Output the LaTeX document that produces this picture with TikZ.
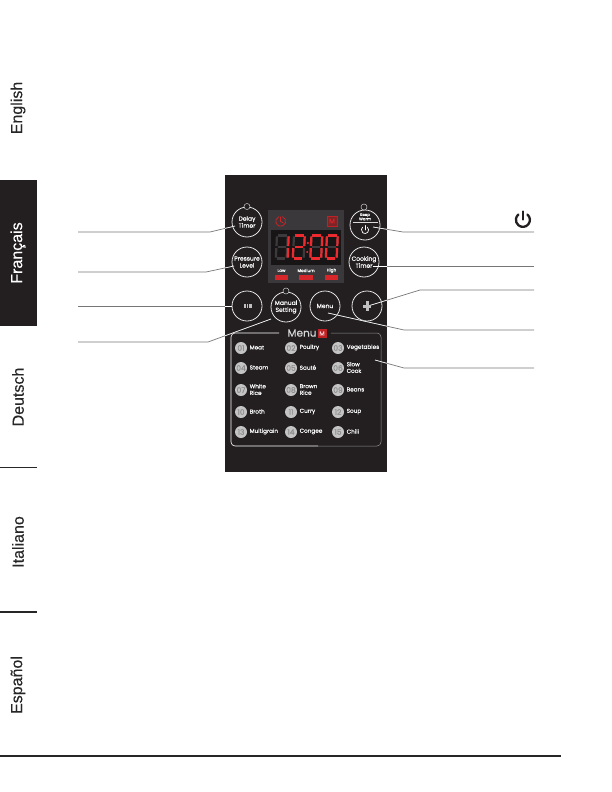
\documentclass[tikz,border=0pt]{standalone}
\usepackage{fontspec}
\setmainfont{Liberation Sans}
\newfontfamily\panelfont[FakeBold=0.12]{Poppins}
\newfontfamily\tabfont[FakeBold=0.25]{Liberation Sans}
\definecolor{panelbg}{HTML}{231F20}
\definecolor{dispbg}{HTML}{3A383B}
\definecolor{dispin}{HTML}{171516}
\definecolor{ghost}{HTML}{3C3A3C}
\definecolor{ledred}{HTML}{EE2A2E}
\definecolor{leader}{HTML}{777777}
\definecolor{disc}{HTML}{C4C4C4}
\tikzset{
  tabtext/.style={rotate=90,font=\tabfont\fontsize{16}{16}\selectfont,text=black!85,inner sep=0pt},
  rulebar/.style={line width=1.3pt,draw=black!85},
  leadline/.style={draw=leader,line width=0.7pt},
  roundbtn/.style={circle,draw=white!90!black,line width=0.8pt,minimum size=30pt,inner sep=0pt,text=white,align=center,font=\panelfont\fontsize{6}{7}\selectfont},
  tinyled/.style={circle,draw=white!80!black,line width=0.5pt,fill=panelbg,minimum size=6pt,inner sep=0pt},
  numdisc/.style={circle,fill=disc,minimum size=12pt,inner sep=0pt,text=black!45,font=\panelfont\fontsize{7.5}{7.5}\selectfont},
  menulabel/.style={anchor=west,inner sep=0pt,text=white,align=left,font=\panelfont\fontsize{5.7}{6.6}\selectfont},
  ledlabel/.style={inner sep=0pt,text=white,font=\panelfont\fontsize{4.2}{4.2}\selectfont},
  ledbar/.style={fill=ledred!90!black,draw=none,minimum width=13.5pt,minimum height=5pt,inner sep=0pt},
  powerline/.style={line cap=round}
}
\newcommand{\segs}[4]{% x, top y, colour, list of segments
  \foreach \s in {#4}{
    \ifnum\s=1 \draw[#3,line width=2.2pt] (#1+2.2,#2) -- (#1+11,#2);\fi
    \ifnum\s=2 \draw[#3,line width=2.2pt] (#1+12.2,#2+.8) -- (#1+11.8,#2+10.5);\fi
    \ifnum\s=3 \draw[#3,line width=2.2pt] (#1+11.6,#2+12.5) -- (#1+11.2,#2+22.2);\fi
    \ifnum\s=4 \draw[#3,line width=2.2pt] (#1+1,#2+23) -- (#1+9.8,#2+23);\fi
    \ifnum\s=5 \draw[#3,line width=2.2pt] (#1+.8,#2+12.5) -- (#1+.4,#2+22.2);\fi
    \ifnum\s=6 \draw[#3,line width=2.2pt] (#1+1.4,#2+.8) -- (#1+1,#2+10.5);\fi
    \ifnum\s=7 \draw[#3,line width=2.2pt] (#1+2,#2+11.5) -- (#1+10.4,#2+11.5);\fi
  }
}
\begin{document}
\begin{tikzpicture}[x=1pt,y=-1pt]
\useasboundingbox (0,0) rectangle (612,792);
\fill[white] (0,0) rectangle (612,792);
% side tabs
\fill[panelbg] (0,180) rectangle (37,326);
\node[tabtext] (tEn) at (18,108) {English};
\node[tabtext,text=white] (tFr) at (18,253) {Français};
\node[tabtext] (tDe) at (18,397) {Deutsch};
\node[tabtext] (tIt) at (18,542) {Italiano};
\node[tabtext] (tEs) at (18,685) {Español};
\draw[rulebar] (0,467.7) -- (37,467.7);
\draw[rulebar] (0,612) -- (37,612);
\draw[rulebar] (0,756) -- (561,756);
% panel
\fill[panelbg] (225,175) rectangle (387,472);
% display
\fill[dispbg] (268,210) rectangle (344,283);
\fill[dispin] (271,230) rectangle (341,265);
\segs{275.5}{235.5}{ghost}{1,2,3,4,5,6,7}
\segs{292.5}{235.5}{ghost}{1,2,3,4,5,6,7}
\segs{310}{235.5}{ghost}{1,2,3,4,5,6,7}
\segs{325.5}{235.5}{ghost}{1,2,3,4,5,6,7}
\segs{276.5}{235.5}{ledred}{2,3}
\segs{292.5}{235.5}{ledred}{1,2,7,5,4}
\segs{310}{235.5}{ledred}{1,2,3,4,5,6}
\segs{325.5}{235.5}{ledred}{1,2,3,4,5,6}
\fill[ledred] (307.8,243) circle (1.2);
\fill[ledred] (307.2,252) circle (1.2);
% clock and M icons
\draw[ledred!85!black,line width=0.8pt] (282.4,216.6) arc (-70:250:5);
\draw[ledred!85!black,line width=0.8pt] (280.6,216.5) -- (280.6,221.5) -- (283.5,223);
\node[draw=ledred!80!black,fill=ledred!45!panelbg,line width=0.6pt,minimum size=10pt,inner sep=0pt,text=ledred!90!black,font=\panelfont\fontsize{7}{7}\selectfont] (mTop) at (332,221) {M};
% LED rows
\node[ledlabel] (lLow) at (281.5,270.5) {Low};
\node[ledlabel] (lMed) at (306,270.5) {Medium};
\node[ledlabel] (lHigh) at (331.5,270.5) {High};
\node[ledbar] (bLow) at (281.5,277.5) {};
\node[ledbar] (bMed) at (306,277.5) {};
\node[ledbar] (bHigh) at (331.5,277.5) {};
% buttons
\node[roundbtn] (delay) at (247,222) {Delay\\Timer};
\node[tinyled] (delayLed) at (247,206.5) {};
\node[roundbtn] (pressure) at (247,262) {Pressure\\Level};
\node[roundbtn] (bars) at (247,306) {};
\foreach \xx in {243.5,245.2,246.9,248.6,250.3}{\fill[white!75!black] (\xx,304) rectangle (\xx+1.2,308);}
\node[roundbtn] (manual) at (286,307) {Manual\\Setting};
\node[tinyled] (manualLed) at (286,291) {};
\node[roundbtn] (menu) at (325,306) {Menu};
\node[roundbtn] (plus) at (367,306) {};
\node[roundbtn] (warm) at (365,225) {};
\node[inner sep=0pt,text=white,align=center,font=\panelfont\fontsize{3.9}{4.3}\selectfont] (warmText) at (365,216.8) {Keep\\Warm};
\node[tinyled] (warmLed) at (364,207) {};
\draw[white!85!black,line width=1pt] (352.5,222.7) -- (377.5,222.7);
\draw[white,line width=0.7pt,powerline] (367.3,227.2) arc (-50:230:3.6);
\draw[white,line width=0.8pt,powerline] (365,225.5) -- (365,230);
\node[roundbtn] (cooking) at (364,262) {Cooking\\Timer};
% menu frame
\draw[white,line width=0.6pt,rounded corners=4pt] (279,333) -- (231,333) -- (231,446) -- (318,446);
\draw[white!50!panelbg,line width=0.5pt,rounded corners=4pt] (318,446) -- (381,446) -- (381,333) -- (331,333);
\node[inner sep=0pt,text=white!85!black,font=\panelfont\fontsize{10.5}{10.5}\selectfont] (menuTitle) at (302,333) {Menu};
\node[draw=ledred!80!black,fill=ledred!80!black,minimum size=8pt,inner sep=0pt,text=white!80!ledred,font=\panelfont\fontsize{6}{6}\selectfont] (mMenu) at (322,333.5) {M};
% menu entries
\foreach \n/\x/\y/\t in {01/241/348/Meat,02/291/348/Poultry,03/338/348/Vegetables,
 04/241/368/Steam,05/291/368/Sauté,06/338/368/{Slow\\Cook},
 07/241/390/{White\\Rice},08/291/390/{Brown\\Rice},09/338/390/Beans,
 10/241/412/Broth,11/291/412/Curry,12/338/412/Soup,
 13/241/432/Multigrain,14/291/432/Congee,15/338/432/Chili}{
  \node[numdisc] (d\n) at (\x,\y) {\n};
  \node[menulabel] (m\n) at (\x+8.5,\y-0.5) {\t};
}
% leader anchors
\coordinate (aL1) at (78,232); \coordinate (eL1) at (210,232); \coordinate (tL1) at (235,226);
\coordinate (aL2) at (78,272); \coordinate (eL2) at (206,272); \coordinate (tL2) at (234,266);
\coordinate (aL3) at (78,306); \coordinate (tL3) at (bars.west);
\coordinate (aL4) at (78,342); \coordinate (eL4) at (208,342); \coordinate (tL4) at (271,319);
\coordinate (aR1) at (534,232); \coordinate (eR1) at (403,232); \coordinate (tR1) at (373,227);
\coordinate (aR2) at (534,266); \coordinate (tR2) at (373,266);
\coordinate (aR3) at (534,290); \coordinate (eR3) at (420,290); \coordinate (tR3) at (368,306);
\coordinate (aR4) at (534,330); \coordinate (eR4) at (404,330); \coordinate (tR4) at (328,313);
\coordinate (aR5) at (534,368); \coordinate (eR5) at (404,368); \coordinate (tR5) at (375,360);
\draw[leadline] (aL1) -- (eL1) -- (tL1);
\draw[leadline] (aL2) -- (eL2) -- (tL2);
\draw[leadline] (aL3) -- (tL3);
\draw[leadline] (aL4) -- (eL4) -- (tL4);
\draw[leadline] (aR1) -- (eR1) -- (tR1);
\draw[leadline] (aR2) -- (tR2);
\draw[leadline] (aR3) -- (eR3) -- (tR3);
\draw[leadline] (aR4) -- (eR4) -- (tR4);
\draw[leadline] (aR5) -- (eR5) -- (tR5);
% panel parts of leaders are white over the dark ground
\begin{scope}
\clip (225,175) rectangle (387,472);
\draw[white,line width=0.6pt] (eL1) -- (tL1);
\draw[white,line width=0.6pt] (eL2) -- (tL2);
\draw[white,line width=0.6pt] (aL3) -- (tL3);
\draw[white,line width=0.6pt] (eL4) -- (tL4);
\draw[white,line width=0.6pt] (eR1) -- (tR1);
\draw[white,line width=0.6pt] (aR2) -- (tR2);
\draw[white,line width=0.6pt] (eR3) -- (tR3);
\draw[white,line width=0.6pt] (eR4) -- (tR4);
\draw[white,line width=0.6pt] (eR5) -- (tR5);
\end{scope}
% plus icon above the leader end
\fill[white!75!black] (363,304.5) rectangle (371,307.5);
\fill[white!75!black] (365.5,301) rectangle (368.5,311);
% power symbol
\draw[panelbg,line width=2.3pt,powerline] (527.4,214.5) arc (-50:230:7);
\draw[panelbg,line width=2.3pt,powerline] (523,211.5) -- (523,219.5);
\end{tikzpicture}
\end{document}
